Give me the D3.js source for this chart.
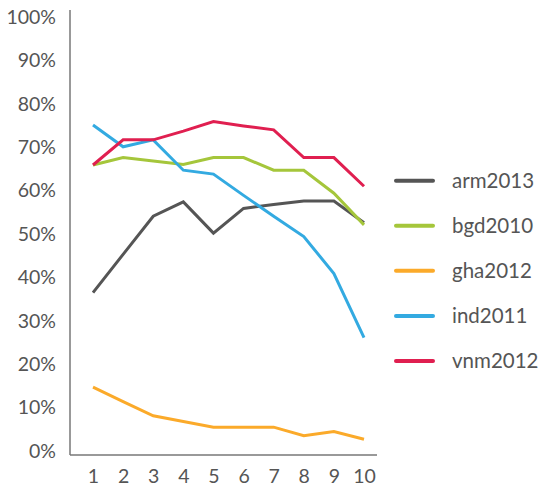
<!DOCTYPE html>
<html>
<head>
<meta charset="utf-8">
<script src="https://cdn.jsdelivr.net/npm/d3@7"></script>
<style>
body{margin:0;background:#fff;}
svg{display:block;}
text{font-family:Lato, "Open Sans", sans-serif;fill:#555;}
</style>
</head>
<body>
<svg id="c" width="542" height="486"></svg>
<script>
const categories = [1,2,3,4,5,6,7,8,9,10];
const seriesNames = ["arm2013","bgd2010","gha2012","ind2011","vnm2012"];
const arm2013 = [36.5,45.3,54.1,57.4,50.2,55.9,56.8,57.6,57.6,52.6];
const bgd2010 = [65.9,67.6,66.8,66.0,67.6,67.6,64.7,64.7,59.4,52.1];
const gha2012 = [14.7,11.4,8.1,6.8,5.5,5.5,5.5,3.5,4.5,2.7];
const ind2011 = [75.1,70.1,71.7,64.7,63.8,58.9,54.1,49.4,40.9,26.1];
const vnm2012 = [65.9,71.7,71.7,73.7,75.9,74.9,74.0,67.6,67.6,61.0];
const yTicks = [0,10,20,30,40,50,60,70,80,90,100];
const colors = ["#555555","#a5c63b","#fbaa2a","#33aae1","#e01f50"];

const seriesValues = [arm2013,bgd2010,gha2012,ind2011,vnm2012];
const svg = d3.select("#c");

const x = d3.scaleLinear().domain([1,10]).range([93,364]);
const y = d3.scaleLinear().domain([0,100]).range([451,17]);

// axis lines
svg.append("line").attr("x1",70).attr("x2",70).attr("y1",10).attr("y2",455)
  .attr("stroke","#777").attr("stroke-width",1.5);
svg.append("line").attr("x1",70).attr("x2",377).attr("y1",455).attr("y2",455)
  .attr("stroke","#777").attr("stroke-width",1.5);

// y axis labels
const yAxis = d3.axisLeft(y).tickValues(yTicks).tickFormat(d=>d+"%").tickSize(0).tickPadding(0);
const gy = svg.append("g").attr("transform","translate(56,0)").call(yAxis);
gy.select(".domain").remove();
gy.selectAll("text").style("font-size","19.5px").attr("fill","#555").style("font-family","Lato, sans-serif");

// x axis labels
const xAxis = d3.axisBottom(x).tickValues(categories).tickFormat(d3.format("d")).tickSize(0).tickPadding(0);
const gx = svg.append("g").attr("transform","translate(0,469)").call(xAxis);
gx.select(".domain").remove();
gx.selectAll("text").style("font-size","19.5px").attr("fill","#555").style("font-family","Lato, sans-serif");

// lines
const line = d3.line().x((d,i)=>x(categories[i])).y(d=>y(d));
seriesValues.forEach((vals,i)=>{
  svg.append("path").datum(vals).attr("d",line)
    .attr("fill","none").attr("stroke",colors[i]).attr("stroke-width",3)
    .attr("stroke-linejoin","miter");
});

// legend
const ly = d3.scalePoint().domain(seriesNames).range([180.7,361]);
seriesNames.forEach((n,i)=>{
  svg.append("line").attr("x1",396).attr("x2",433).attr("y1",ly(n)).attr("y2",ly(n))
    .attr("stroke",colors[i]).attr("stroke-width",4).attr("stroke-linecap","round");
  svg.append("text").attr("x",452).attr("y",ly(n)).attr("dy","0.35em")
    .style("font-size","20.5px").text(n);
});
</script>
</body>
</html>
